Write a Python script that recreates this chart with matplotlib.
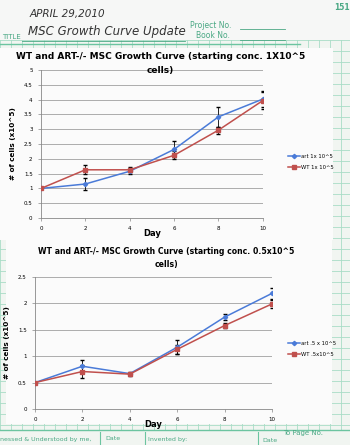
import matplotlib
matplotlib.use('Agg')
import matplotlib.pyplot as plt
from matplotlib.patches import Rectangle
from matplotlib.lines import Line2D

# data
days = [0, 2, 4, 6, 8, 10]

art_1x = [1.0, 1.15, 1.58, 2.32, 3.42, 4.02]
art_1x_err = [0, 0.2, 0.08, 0.27, 0.33, 0.28]
wt_1x = [1.0, 1.63, 1.63, 2.12, 2.97, 3.97]
wt_1x_err = [0, 0.15, 0.08, 0.13, 0.12, 0.28]

art_05x = [0.5, 0.81, 0.67, 1.17, 1.74, 2.19]
art_05x_err = [0, 0.12, 0.03, 0.13, 0.06, 0.1]
wt_05x = [0.5, 0.71, 0.66, 1.13, 1.58, 1.99]
wt_05x_err = [0, 0.12, 0.03, 0.08, 0.05, 0.08]

BLUE = '#4a7bd8'
RED = '#c0504d'
GREEN = '#4aa884'

W, H = 350, 445
fig = plt.figure(figsize=(W / 100, H / 100), dpi=100)
fig.patch.set_facecolor('#f1f5f1')

# notebook page: graph paper background
bg = fig.add_axes([0, 0, 1, 1])
bg.set_xlim(0, W)
bg.set_ylim(H, 0)
bg.axis('off')
for x in range(0, W, 11):
    bg.plot([x, x], [40, 430], color='#a9dcc6', lw=0.6, zorder=1)
for y in range(40, 430, 11):
    bg.plot([0, W], [y, y], color='#a9dcc6', lw=0.6, zorder=1)
bg.plot([0, W], [430, 430], color='#6cc4a0', lw=1, zorder=1)
bg.plot([0, 300], [44, 44], color='#6cc4a0', lw=1, zorder=1)
bg.add_patch(Rectangle((0, 48), 333, 192, facecolor='#fbfbfb', edgecolor='none', zorder=5))
bg.add_patch(Rectangle((6, 240), 326, 184, facecolor='#fbfbfb', edgecolor='none', zorder=5))
bg.add_patch(Rectangle((0, 0), W, 40, facecolor='#f6f7f6', edgecolor='none', zorder=2))

# header
bg.text(30, 14, 'APRIL 29,2010', fontsize=7.5, style='italic', color='#333333',
        va='center', zorder=6)
bg.text(28, 32, 'MSC Growth Curve Update', fontsize=8.5, style='italic', color='#333333',
        va='center', zorder=6)
bg.text(2, 37, 'TITLE', fontsize=5, color=GREEN, va='center', zorder=6)
bg.plot([22, 185], [41, 41], color=GREEN, lw=0.6, zorder=6)
bg.text(190, 25, 'Project No.', fontsize=5.5, color=GREEN, va='center', zorder=6)
bg.text(196, 36, 'Book No.', fontsize=5.5, color=GREEN, va='center', zorder=6)
bg.plot([240, 285], [29, 29], color=GREEN, lw=0.6, zorder=6)
bg.plot([240, 285], [40, 40], color=GREEN, lw=0.6, zorder=6)
bg.text(334, 8, '151', fontsize=5.5, color=GREEN, fontweight='bold', va='center', zorder=6)

# footer
bg.text(0, 439, 'nessed & Understood by me,', fontsize=4.5, color=GREEN, va='center', zorder=6)
bg.text(105, 439, 'Date', fontsize=4.5, color=GREEN, va='center', zorder=6)
bg.text(148, 439, 'Invented by:', fontsize=4.5, color=GREEN, va='center', zorder=6)
bg.text(262, 441, 'Date', fontsize=4.5, color=GREEN, va='center', zorder=6)
bg.text(283, 433, 'To Page No.', fontsize=5, color=GREEN, va='center', zorder=6)
for x in [100, 145, 258]:
    bg.plot([x, x], [432, 445], color='#6cc4a0', lw=0.8, zorder=6)


def growth_chart(rect, title, title_y, tx, tsize, art, art_err, wt, wt_err, ymax,
                 labels, legend_y):
    ax = fig.add_axes(rect)
    ax.set_facecolor('none')
    ax.errorbar(days, art, yerr=art_err, color=BLUE, marker='D', ms=2.2, lw=1.1,
                ecolor='black', elinewidth=0.6, capsize=1.2, zorder=3)
    ax.errorbar(days, wt, yerr=wt_err, color=RED, marker='s', ms=2.8, lw=1.1,
                ecolor='black', elinewidth=0.6, capsize=1.2, zorder=3)
    ax.set_xlim(0, 10)
    ax.set_ylim(0, ymax)
    ax.set_xticks(days)
    yt = [i * 0.5 for i in range(int(round(ymax / 0.5)) + 1)]
    ax.set_yticks(yt)
    ax.set_yticklabels([f'{v:g}' for v in yt])
    ax.yaxis.grid(True, color='#a0a0a0', lw=0.6)
    ax.set_axisbelow(True)
    for s in ['top', 'right']:
        ax.spines[s].set_visible(False)
    for s in ['left', 'bottom']:
        ax.spines[s].set_color('#888888')
        ax.spines[s].set_linewidth(0.6)
    ax.tick_params(labelsize=4, length=2, width=0.5, color='#888888', pad=4)
    ax.set_xlabel('Day', fontsize=6, fontweight='bold', labelpad=-2)
    ax.set_ylabel('# of cells (x10^5)', fontsize=5.2, fontweight='bold', labelpad=6)
    handles = [Line2D([], [], color=BLUE, marker='D', ms=2.2, lw=1.1),
               Line2D([], [], color=RED, marker='s', ms=2.8, lw=1.1)]
    fig.legend(handles, labels, loc='center left',
               bbox_to_anchor=(0.815, legend_y), fontsize=3.8, frameon=False,
               handlelength=2.2, labelspacing=1.2, borderpad=0, handletextpad=0.3)
    line1, line2 = title
    fig.text(tx, title_y, line1, ha='center', va='top', fontsize=tsize,
             fontweight='bold', zorder=6)
    fig.text(tx, title_y - 13.5 / H, line2, ha='center', va='top', fontsize=tsize,
             fontweight='bold', zorder=6)
    return ax


growth_chart([0.117, 0.510, 0.634, 0.3326],
             ('WT and ART-/- MSC Growth Curve (starting conc. 1X10^5', 'cells)'),
             1 - 52 / H, 0.458, 6.5,
             art_1x, art_1x_err, wt_1x, wt_1x_err, 5,
             ['art 1x 10^5', 'WT 1x 10^5'], 1 - 162 / H)

growth_chart([0.100, 0.0809, 0.677, 0.2966],
             ('WT and ART-/- MSC Growth Curve (starting conc. 0.5x10^5', 'cells)'),
             1 - 247 / H, 0.476, 5.6,
             art_05x, art_05x_err, wt_05x, wt_05x_err, 2.5,
             ['art .5 x 10^5', 'WT .5x10^5'], 1 - 349 / H)

fig.savefig('out.png', dpi=100, facecolor=fig.get_facecolor())
